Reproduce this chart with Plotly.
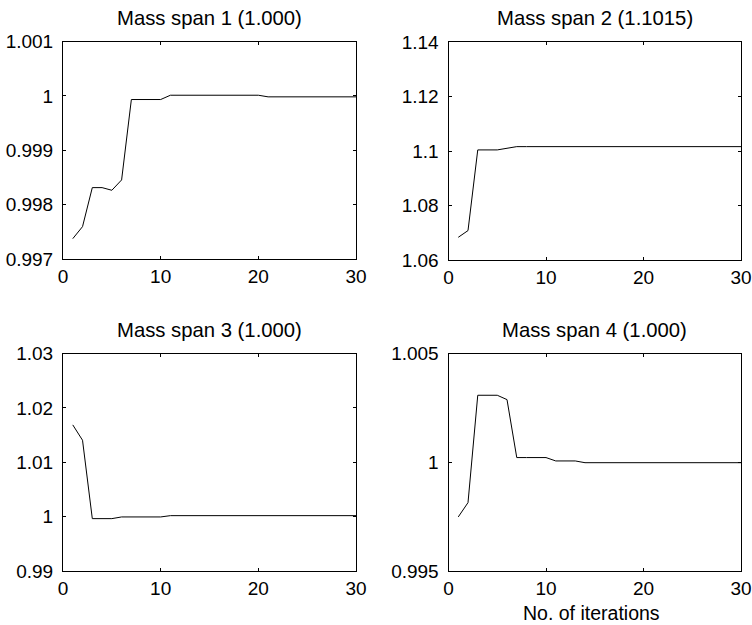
import plotly.graph_objects as go

iterations = list(range(1, 31))

span1 = [0.997374, 0.997595, 0.998313, 0.998313, 0.998264, 0.998454] + [0.999933] * 4 + [1.000012] * 10 + [0.999982] * 10
span2 = [1.06833, 1.0708, 1.1004, 1.1004, 1.1004, 1.1010] + [1.1016] * 24
span3 = [1.01687, 1.01405, 0.99963, 0.99963, 0.99963] + [0.99994] * 5 + [1.00018] * 20
span4 = [0.997485, 0.998144, 1.00308, 1.00308, 1.00308, 1.00288] + [1.000215] * 4 + [1.00006] * 3 + [0.99998] * 17

titles = ["Mass span 1 (1.000)", "Mass span 2 (1.1015)", "Mass span 3 (1.000)", "Mass span 4 (1.000)"]
y_ranges = [[0.997, 1.001], [1.06, 1.14], [0.99, 1.03], [0.995, 1.005]]
y_ticks = [
    [0.997, 0.998, 0.999, 1.0, 1.001],
    [1.06, 1.08, 1.10, 1.12, 1.14],
    [0.99, 1.0, 1.01, 1.02, 1.03],
    [0.995, 1.0, 1.005],
]
y_ticktext = [
    ["0.997", "0.998", "0.999", "1", "1.001"],
    ["1.06", "1.08", "1.1", "1.12", "1.14"],
    ["0.99", "1", "1.01", "1.02", "1.03"],
    ["0.995", "1", "1.005"],
]
x_ticks = [0, 10, 20, 30]
x_label = "No. of iterations"

W, H = 752, 625
boxes = [  # left, right, top, bottom in pixels
    (63, 356, 41.5, 259),
    (448.5, 741, 42, 260),
    (63, 356, 353.5, 571),
    (448.5, 741, 353.5, 571),
]

FONT = "Liberation Sans, Arial, sans-serif"
fig = go.Figure()
series = [span1, span2, span3, span4]
for i, ys in enumerate(series):
    n = "" if i == 0 else str(i + 1)
    fig.add_trace(go.Scatter(x=iterations, y=ys, mode="lines",
                             line=dict(color="black", width=1),
                             xaxis="x" + n, yaxis="y" + n, showlegend=False,
                             hoverinfo="skip"))
    l, r, t, b = boxes[i]
    xd = [l / W, r / W]
    yd = [1 - b / H, 1 - t / H]
    common = dict(showline=True, linecolor="black", linewidth=1, mirror="ticks",
                  ticks="inside", ticklen=3, tickcolor="black", tickwidth=1,
                  showgrid=False, zeroline=False, automargin=False,
                  tickfont=dict(family=FONT, size=19, color="black"))
    fig.layout["xaxis" + n] = dict(domain=xd, range=[0, 30], tickvals=x_ticks,
                                   anchor="y" + n, ticklabelstandoff=0, **common)
    fig.layout["yaxis" + n] = dict(domain=yd, range=y_ranges[i], tickvals=y_ticks[i],
                                   ticktext=y_ticktext[i], anchor="x" + n,
                                   ticklabelstandoff=5, **common)
    fig.add_annotation(text=titles[i], x=(xd[0] + xd[1]) / 2, y=1 - (t - 24) / H,
                       xref="paper", yref="paper", showarrow=False,
                       xanchor="center", yanchor="middle",
                       font=dict(family=FONT, size=20.3, color="black"))

l, r, t, b = boxes[3]
fig.add_annotation(text=x_label, x=((l + r) / 2 - 3) / W, y=1 - 613 / H,
                   xref="paper", yref="paper", showarrow=False,
                   xanchor="center", yanchor="middle",
                   font=dict(family=FONT, size=19.5, color="black"))

fig.update_layout(width=W, height=H, margin=dict(l=0, r=0, t=0, b=0, autoexpand=False),
                  paper_bgcolor="white", plot_bgcolor="white")
fig.write_html("out.html")
